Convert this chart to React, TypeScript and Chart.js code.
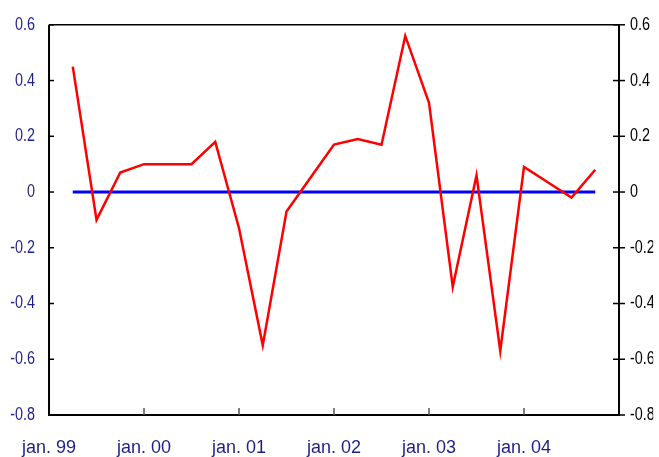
import React, { useEffect, useRef } from "react";
import { Chart, registerables } from "chart.js";

Chart.register(...registerables);

// Quarter index since jan. 99 (0 = jan. 99)
const quarters = [1, 2, 3, 4, 5, 6, 7, 8, 9, 10, 11, 12, 13, 14, 15, 16, 17, 18, 19, 20, 21, 22, 23];
const seriesValues = [
  0.45, -0.1, 0.07, 0.1, 0.1, 0.1, 0.18, -0.13, -0.55, -0.07, 0.05, 0.17,
  0.19, 0.17, 0.56, 0.32, -0.34, 0.06, -0.57, 0.09, 0.035, -0.02, 0.08,
];
const zeroValues = quarters.map(() => 0);
const xTickPositions = [0, 4, 8, 12, 16, 20];
const xTickLabels = ["jan. 99", "jan. 00", "jan. 01", "jan. 02", "jan. 03", "jan. 04"];
const xMin = 0;
const xMax = 24;
const yMin = -0.8;
const yMax = 0.6;

const NAVY = "#1f1f8a";
const SANS = "'Liberation Sans', Arial, sans-serif";
const Y_SQUEEZE = 0.8;

function squeezeLabels(axis: any) {
  if (axis._squeezed) return;
  axis._squeezed = true;
  const orig = axis.drawLabels.bind(axis);
  axis.drawLabels = function (area: any) {
    const ctx = this.ctx;
    const ox = this.position === "left" ? this.right - this.options.ticks.padding : this.left + this.options.ticks.padding;
    ctx.save();
    ctx.translate(ox, 0);
    ctx.scale(Y_SQUEEZE, 1);
    ctx.translate(-ox, 0);
    orig(area);
    ctx.restore();
  };
}

const framePlugin = {
  id: "frame",
  afterDraw(chart: any) {
    const { ctx, chartArea } = chart;
    const { left, right, top, bottom } = chartArea;
    const y = chart.scales.y;
    const x = chart.scales.x;
    ctx.save();
    ctx.strokeStyle = "#000";
    ctx.lineWidth = 1.5;
    ctx.beginPath();
    ctx.moveTo(left, top);
    ctx.lineTo(right, top);
    ctx.stroke();
    ctx.lineWidth = 2;
    ctx.beginPath();
    ctx.moveTo(left, top);
    ctx.lineTo(left, bottom);
    ctx.lineTo(right, bottom);
    ctx.lineTo(right, top);
    ctx.stroke();
    ctx.lineWidth = 1.5;
    y.ticks.forEach((t: any) => {
      const py = y.getPixelForValue(t.value);
      ctx.beginPath();
      ctx.moveTo(left, py);
      ctx.lineTo(left + 5, py);
      ctx.stroke();
      ctx.beginPath();
      ctx.moveTo(right - 6, py);
      ctx.lineTo(right + 6, py);
      ctx.stroke();
    });
    ctx.strokeStyle = "#555";
    xTickPositions.forEach((v) => {
      if (v === xMin) return;
      const px = x.getPixelForValue(v);
      ctx.beginPath();
      ctx.moveTo(px, bottom);
      ctx.lineTo(px, bottom - 7);
      ctx.stroke();
    });
    ctx.restore();
  },
};

const yLabel = (v: any) => {
  const n = Math.round(Number(v) * 10) / 10;
  return n === 0 ? "0" : n.toFixed(1);
};

export default function App() {
  const ref = useRef<HTMLCanvasElement | null>(null);
  useEffect(() => {
    if (!ref.current) return;
    const chart = new Chart(ref.current, {
      type: "line",
      data: {
        datasets: [
          {
            data: quarters.map((q, i) => ({ x: q, y: seriesValues[i] })),
            borderColor: "#ff0000",
            borderWidth: 2.5,
            pointRadius: 0,
            tension: 0,
            yAxisID: "y",
          },
          {
            data: quarters.map((q, i) => ({ x: q, y: zeroValues[i] })),
            borderColor: "#0000ff",
            borderWidth: 3,
            pointRadius: 0,
            tension: 0,
            yAxisID: "y",
          },
        ],
      },
      options: {
        animation: false,
        responsive: false,
        maintainAspectRatio: false,
        layout: { padding: { top: 24, left: 0, right: 0, bottom: 0 } },
        plugins: { legend: { display: false }, tooltip: { enabled: false } },
        scales: {
          x: {
            type: "linear",
            min: xMin,
            max: xMax,
            afterBuildTicks: (axis: any) => {
              axis.ticks = xTickPositions.map((v) => ({ value: v }));
            },
            afterFit: (axis: any) => {
              axis.height = 42;
            },
            grid: { display: false, drawTicks: false },
            border: { display: false },
            ticks: {
              autoSkip: false,
              maxRotation: 0,
              padding: 22,
              color: NAVY,
              font: { family: SANS, size: 18 },
              callback: (v: any) => {
                const i = xTickPositions.indexOf(Number(v));
                return i >= 0 ? xTickLabels[i] : "";
              },
            },
          },
          y: {
            position: "left",
            min: yMin,
            max: yMax,
            afterFit: (axis: any) => {
              axis.width = 48;
            },
            afterUpdate: squeezeLabels,
            grid: { display: false, drawTicks: false },
            border: { display: false },
            ticks: {
              stepSize: 0.2,
              padding: 14,
              color: NAVY,
              font: { family: SANS, size: 18 },
              callback: yLabel,
            },
          },
          y2: {
            position: "right",
            min: yMin,
            max: yMax,
            afterFit: (axis: any) => {
              axis.width = 40;
            },
            afterUpdate: squeezeLabels,
            grid: { display: false, drawTicks: false },
            border: { display: false },
            ticks: {
              stepSize: 0.2,
              padding: 11,
              color: "#000",
              font: { family: SANS, size: 18 },
              callback: yLabel,
            },
          },
        },
      },
      plugins: [framePlugin],
    } as any);
    return () => chart.destroy();
  }, []);
  return (
    <div style={{ position: "fixed", left: 0, top: 0, width: 659, height: 457, background: "#fff" }}>
      <canvas ref={ref} width={659} height={457} style={{ display: "block" }} />
    </div>
  );
}
